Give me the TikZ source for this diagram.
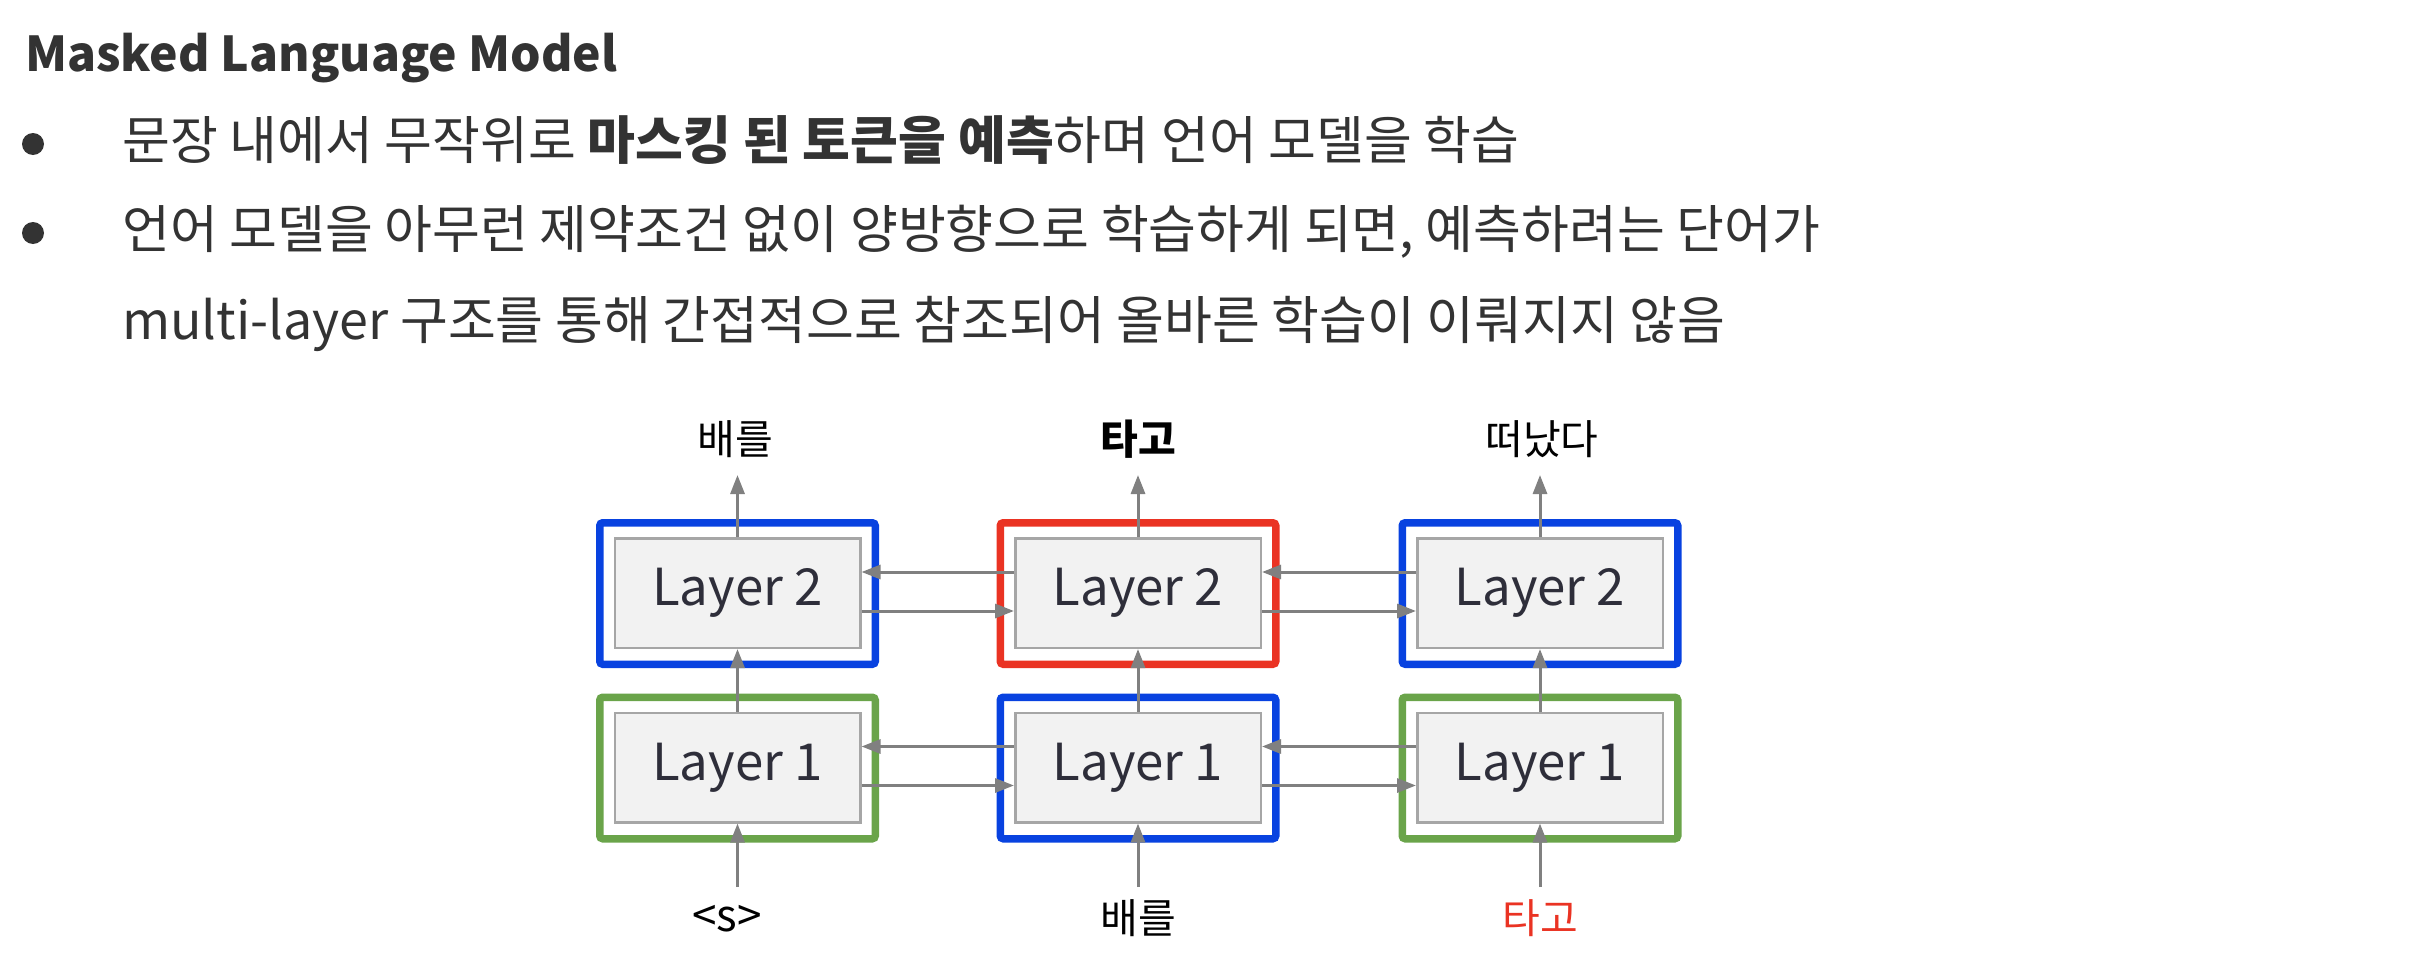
\documentclass[tikz,border=0pt]{standalone}
\usepackage{fontspec}
\setmainfont{Noto Sans CJK KR}
\usetikzlibrary{arrows.meta}
\definecolor{mblue}{RGB}{8,66,224}
\definecolor{mred}{RGB}{234,51,35}
\definecolor{mgreen}{RGB}{106,164,74}
\definecolor{agray}{RGB}{128,128,128}
\definecolor{bgray}{RGB}{166,166,166}
\definecolor{bfill}{RGB}{242,242,242}
\definecolor{tdark}{RGB}{51,51,51}
\definecolor{ltext}{RGB}{46,46,58}
\tikzset{
  outerbox/.style={draw=#1, line width=7.5pt, rounded corners=3pt, minimum width=275.5pt, minimum height=141.5pt, inner sep=0pt},
  layerbox/.style={draw=bgray, fill=bfill, line width=2.5pt, minimum width=245.5pt, minimum height=109.5pt, inner sep=0pt, text=ltext, font=\fontsize{51}{60}\selectfont},
  conn/.style={draw=agray, line width=3pt, -{Triangle[length=19pt,width=14pt]}},
  lbl/.style={anchor=base, inner sep=0pt, font=\fontsize{41}{48}\selectfont},
  bodytext/.style={anchor=base west, inner sep=0pt, text=tdark, font=\fontsize{52}{60}\selectfont},
  bulletdot/.style={circle, fill=tdark, minimum size=22pt, inner sep=0pt}
}
\begin{document}
\begin{tikzpicture}[x=1pt,y=-1pt]
\useasboundingbox (0,0) rectangle (2410,974);
% title and bullets
\node[anchor=base west, inner sep=0pt, text=tdark, font=\bfseries\fontsize{48}{58}\selectfont] (title) at (25,71) {Masked Language Model};
\node[bulletdot] (b1) at (33,144) {};
\node[bulletdot] (b2) at (33,233) {};
\node[bodytext] (l1) at (122,159.5) {문장 내에서 무작위로 \textbf{마스킹 된 토큰을 예측}하며 언어 모델을 학습};
\node[bodytext] (l2) at (122,248.5) {언어 모델을 아무런 제약조건 없이 양방향으로 학습하게 되면, 예측하려는 단어가};
\node[bodytext] (l3) at (122,339) {multi-layer 구조를 통해 간접적으로 참조되어 올바른 학습이 이뤄지지 않음};
% outer boxes
\node[outerbox=mblue] (oA2) at (737.5,593.5) {};
\node[outerbox=mred] (oB2) at (1138,593.5) {};
\node[outerbox=mblue] (oC2) at (1540,593.5) {};
\node[outerbox=mgreen] (oA1) at (737.5,768) {};
\node[outerbox=mblue] (oB1) at (1138,768) {};
\node[outerbox=mgreen] (oC1) at (1540,768) {};
% layer boxes
\node[layerbox] (A2) at (737.5,593) {Layer 2};
\node[layerbox] (B2) at (1138,593) {Layer 2};
\node[layerbox] (C2) at (1540,593) {Layer 2};
\node[layerbox] (A1) at (737.5,767.5) {Layer 1};
\node[layerbox] (B1) at (1138,767.5) {Layer 1};
\node[layerbox] (C1) at (1540,767.5) {Layer 1};
% labels
\node[lbl] (tA) at (735,454) {배를};
\node[lbl, font=\bfseries\fontsize{41}{48}\selectfont] (tB) at (1138,454) {타고};
\node[lbl] (tC) at (1542,454) {떠났다};
\node[lbl, font=\fontsize{44}{50}\selectfont] (iA) at (727,931) {<s>};
\node[lbl] (iB) at (1138,933) {배를};
\node[lbl, text=mred] (iC) at (1540,933) {타고};
% free ends
\coordinate (uA) at (737.5,475);
\coordinate (uB) at (1138,475);
\coordinate (uC) at (1540,475);
\coordinate (dA) at (737.5,887);
\coordinate (dB) at (1138,887);
\coordinate (dC) at (1540,887);
% vertical connectors
\foreach \c in {A,B,C}{
  \draw[conn] (d\c) -- (\c1.south);
  \draw[conn] (\c1.north) -- (\c2.south);
  \draw[conn] (\c2.north) -- (u\c);
}
% horizontal connectors
\foreach \l/\r in {A/B,B/C}{
  \foreach \k in {1,2}{
    \draw[conn] ([yshift=21pt]\r\k.west) -- ([yshift=21pt]\l\k.east);
    \draw[conn] ([yshift=-18pt]\l\k.east) -- ([yshift=-18pt]\r\k.west);
  }
}
\end{tikzpicture}
\end{document}
